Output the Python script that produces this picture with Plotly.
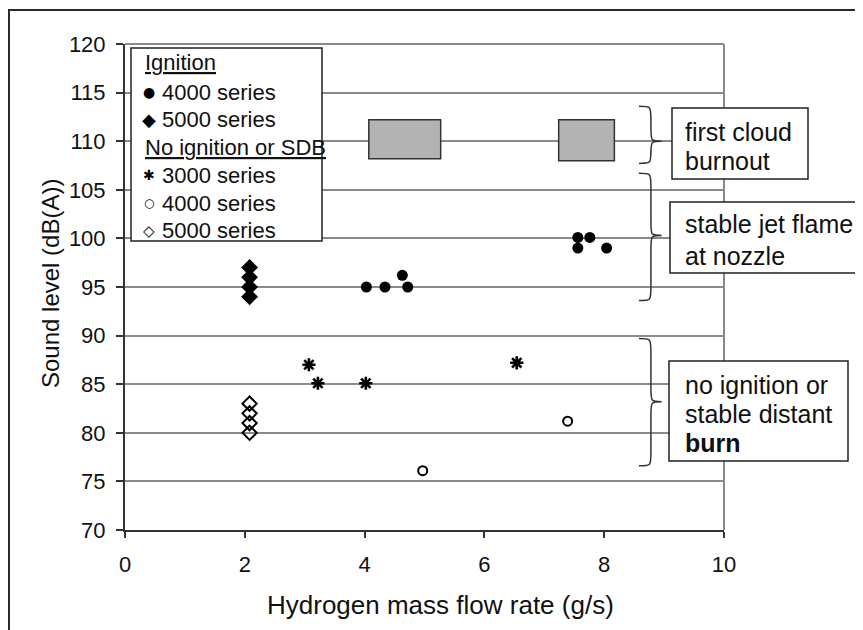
import plotly.graph_objects as go

# ---------------- data ----------------
ign4000_x = [4.03, 4.34, 4.63, 4.72, 7.56, 7.76, 7.56, 8.04]
ign4000_y = [95.0, 95.0, 96.2, 95.0, 100.1, 100.1, 99.0, 99.0]

ign5000_x = [2.08, 2.08, 2.08, 2.08]
ign5000_y = [97.0, 96.0, 95.0, 94.0]

no3000_x = [3.07, 3.22, 4.02, 6.54]
no3000_y = [87.0, 85.1, 85.1, 87.2]

no4000_x = [4.97, 7.39]
no4000_y = [76.1, 81.2]

no5000_x = [2.08, 2.08, 2.08, 2.08]
no5000_y = [83.0, 82.0, 81.0, 80.0]

# gray range boxes (first cloud burnout)
box_x0 = [4.07, 7.24]
box_x1 = [5.27, 8.17]
box_y0 = [108.2, 108.0]
box_y1 = [112.2, 112.2]

# braces: (top, tip, bottom) in dB(A)
brace_top = [113.6, 106.7, 89.7]
brace_mid = [110.0, 100.3, 83.2]
brace_bot = [107.7, 93.6, 76.6]

region_lines = [["first cloud", "burnout"],
                ["stable jet flame", "at nozzle"],
                ["no ignition or", "stable distant", "<b>burn</b>"]]

legend_headers = ["Ignition", "No ignition or SDB"]
legend_labels = ["4000 series", "5000 series", "3000 series", "4000 series", "5000 series"]
legend_glyphs = ["\u25CF", "\u25C6", "\u2731", "\u25CB", "\u25C7"]

x_ticks = [0, 2, 4, 6, 8, 10]
y_ticks = [70, 75, 80, 85, 90, 95, 100, 105, 110, 115, 120]

FONT = "Liberation Sans, Arial, sans-serif"
# screen layout (page body has an 8px margin)
OFF = 8
W, H = 863 - OFF, 630 - OFF
L, R, T, B = 125, 724, 44, 530


def px(xs):
    return (xs - L) / (R - L)


def py(ys):
    return (B - ys) / (B - T)


fig = go.Figure()

fig.add_trace(go.Scatter(
    x=ign4000_x, y=ign4000_y, mode="markers", name="Ignition 4000 series",
    marker=dict(symbol="circle", size=11, color="black")))
fig.add_trace(go.Scatter(
    x=ign5000_x, y=ign5000_y, mode="markers", name="Ignition 5000 series",
    marker=dict(symbol="diamond", size=13, color="black")))
fig.add_trace(go.Scatter(
    x=no3000_x, y=no3000_y, mode="markers", name="No ignition 3000 series",
    marker=dict(symbol="asterisk-open", size=11, color="black",
                line=dict(color="black", width=2.6))))
fig.add_trace(go.Scatter(
    x=no4000_x, y=no4000_y, mode="markers", name="No ignition 4000 series",
    marker=dict(symbol="circle-open", size=9, color="black",
                line=dict(color="black", width=2))))
fig.add_trace(go.Scatter(
    x=no5000_x, y=no5000_y, mode="markers", name="No ignition 5000 series",
    marker=dict(symbol="diamond-open", size=11, color="black",
                line=dict(color="black", width=2))))

shapes = []
# outer frame
shapes.append(dict(type="rect", xref="paper", yref="paper",
                   x0=px(9), x1=px(900), y0=py(700), y1=py(10),
                   line=dict(color="#2a2a2a", width=2), fillcolor="rgba(0,0,0,0)",
                   layer="below"))
# top and right plot borders (gray)
shapes.append(dict(type="line", xref="paper", yref="paper", x0=0, x1=1, y0=1, y1=1,
                   line=dict(color="#8a8a8a", width=2), layer="below"))
shapes.append(dict(type="line", xref="paper", yref="paper", x0=1, x1=1, y0=0, y1=1,
                   line=dict(color="#8a8a8a", width=2), layer="below"))

# gray boxes
for a, b, c, d in zip(box_x0, box_x1, box_y0, box_y1):
    shapes.append(dict(type="rect", xref="x", yref="y", x0=a, x1=b, y0=c, y1=d,
                       fillcolor="#b3b3b3", line=dict(color="#333", width=1.5),
                       layer="above"))

# braces
xl, xs, xt = 8.58, 8.78, 8.96
for yt, ym, yb in zip(brace_top, brace_mid, brace_bot):
    d = 1.4
    path = (f"M {xl},{yt} C {xs},{yt} {xs},{yt} {xs},{yt - d} "
            f"L {xs},{ym + d} C {xs},{ym} {xs},{ym} {xt},{ym} "
            f"C {xs},{ym} {xs},{ym} {xs},{ym - d} "
            f"L {xs},{yb + d} C {xs},{yb} {xs},{yb} {xl},{yb}")
    shapes.append(dict(type="path", xref="x", yref="y", path=path,
                       line=dict(color="#333", width=1.5), layer="above"))

# region text boxes (screen px layout)
region_boxes = [(672, 808, 108, 179), (670, 861, 202, 273), (669, 848, 361, 461)]
for (x0, x1, y0, y1) in region_boxes:
    shapes.append(dict(type="rect", xref="paper", yref="paper",
                       x0=px(x0), x1=px(x1), y0=py(y1), y1=py(y0),
                       fillcolor="white", line=dict(color="#222", width=1.5),
                       layer="above"))

# legend box
shapes.append(dict(type="rect", xref="paper", yref="paper",
                   x0=px(131), x1=px(322), y0=py(241), y1=py(48),
                   fillcolor="white", line=dict(color="#222", width=1.5),
                   layer="above"))

annotations = []
line_centers = [[132, 161], [224, 256], [385, 414, 443]]
for lines, centers in zip(region_lines, line_centers):
    for txt, yc in zip(lines, centers):
        annotations.append(dict(xref="paper", yref="paper", x=px(683), y=py(yc),
                                xanchor="left", yanchor="middle", showarrow=False,
                                text=txt, font=dict(size=25, family=FONT, color="#111")))

# legend contents
header_y = [63, 147]
for txt, yc in zip(legend_headers, header_y):
    annotations.append(dict(xref="paper", yref="paper", x=px(143), y=py(yc),
                            xanchor="left", yanchor="middle", showarrow=False,
                            text=f'<span style="text-decoration:underline">{txt}</span>',
                            font=dict(size=22, family=FONT, color="#111")))
item_y = [92, 119, 175, 203, 231]
glyph_sizes = [14, 18, 14, 12, 15]
for lab, gl, gs, yc in zip(legend_labels, legend_glyphs, glyph_sizes, item_y):
    annotations.append(dict(xref="paper", yref="paper", x=px(149), y=py(yc),
                            xanchor="center", yanchor="middle", showarrow=False,
                            text=gl, font=dict(size=gs, family="DejaVu Sans", color="black")))
    annotations.append(dict(xref="paper", yref="paper", x=px(160), y=py(yc),
                            xanchor="left", yanchor="middle", showarrow=False,
                            text=lab, font=dict(size=22, family=FONT, color="#111")))

annotations.append(dict(xref="paper", yref="paper", x=px(440), y=py(605),
                        xanchor="center", yanchor="middle", showarrow=False,
                        text="Hydrogen mass flow rate (g/s)",
                        font=dict(size=26, family=FONT, color="#111")))
annotations.append(dict(xref="paper", yref="paper", x=px(50), y=py(284),
                        xanchor="center", yanchor="middle", showarrow=False,
                        textangle=-90, text="Sound level (dB(A))",
                        font=dict(size=24, family=FONT, color="#111")))

fig.update_layout(
    width=W, height=H,
    margin=dict(l=L - OFF, r=W - (R - OFF), t=T - OFF, b=H - (B - OFF), pad=0),
    paper_bgcolor="white", plot_bgcolor="white",
    font=dict(family=FONT, size=22, color="#111"),
    showlegend=False,
    xaxis=dict(range=[0, 10], tickvals=x_ticks, ticks="outside", ticklen=6,
               tickcolor="#333", tickwidth=1.5, showgrid=False, zeroline=False,
               showline=True, linecolor="#333", linewidth=2, ticklabelstandoff=8,
               tickfont=dict(size=22, family=FONT, color="#111")),
    yaxis=dict(range=[70, 120], tickvals=y_ticks, ticks="outside", ticklen=7,
               tickcolor="#333", tickwidth=1.5, showgrid=True, gridcolor="#8a8a8a",
               gridwidth=2, zeroline=False, showline=True, linecolor="#333",
               linewidth=2, ticklabelstandoff=6,
               tickfont=dict(size=22, family=FONT, color="#111")),
    shapes=shapes, annotations=annotations,
)

fig.write_html("out.html")
